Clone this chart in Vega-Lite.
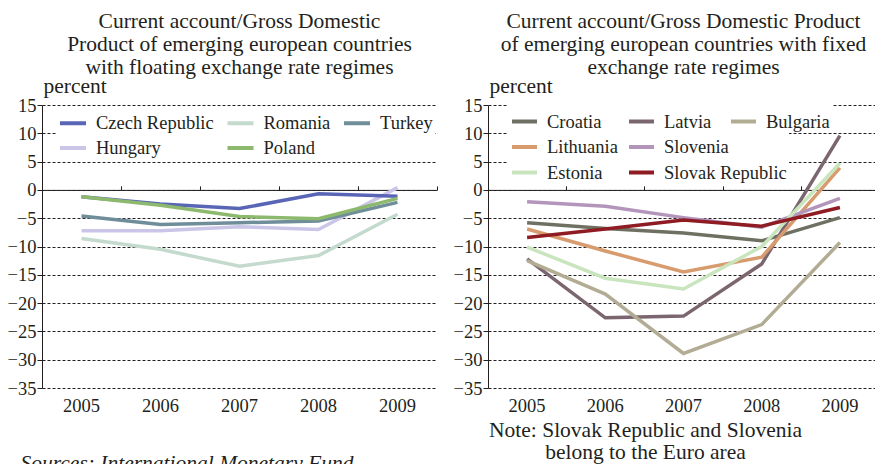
{
  "$schema": "https://vega.github.io/schema/vega-lite/v6.json",
  "background": "white",
  "padding": {"left": 7, "top": 10, "right": 0, "bottom": 0},
  "spacing": 15,
  "config": {
    "font": "Liberation Serif",
    "view": {"stroke": null},
    "axis": {"labelFont": "Liberation Serif", "titleFont": "Liberation Serif", "labelColor": "#231f20", "titleColor": "#231f20", "titleFontWeight": "normal"},
    "legend": {"labelFont": "Liberation Serif", "labelColor": "#231f20"},
    "title": {"font": "Liberation Serif", "fontWeight": "normal", "color": "#231f20"}
  },
  "datasets": {
    "floating": [
      {"country": "Romania", "year": "2005", "value": -8.6},
      {"country": "Romania", "year": "2006", "value": -10.5},
      {"country": "Romania", "year": "2007", "value": -13.5},
      {"country": "Romania", "year": "2008", "value": -11.6},
      {"country": "Romania", "year": "2009", "value": -4.3},
      {"country": "Hungary", "year": "2005", "value": -7.2},
      {"country": "Hungary", "year": "2006", "value": -7.2},
      {"country": "Hungary", "year": "2007", "value": -6.5},
      {"country": "Hungary", "year": "2008", "value": -7.0},
      {"country": "Hungary", "year": "2009", "value": 0.4},
      {"country": "Turkey", "year": "2005", "value": -4.6},
      {"country": "Turkey", "year": "2006", "value": -6.1},
      {"country": "Turkey", "year": "2007", "value": -5.8},
      {"country": "Turkey", "year": "2008", "value": -5.5},
      {"country": "Turkey", "year": "2009", "value": -2.2},
      {"country": "Czech Republic", "year": "2005", "value": -1.2},
      {"country": "Czech Republic", "year": "2006", "value": -2.5},
      {"country": "Czech Republic", "year": "2007", "value": -3.3},
      {"country": "Czech Republic", "year": "2008", "value": -0.7},
      {"country": "Czech Republic", "year": "2009", "value": -1.1},
      {"country": "Poland", "year": "2005", "value": -1.2},
      {"country": "Poland", "year": "2006", "value": -2.7},
      {"country": "Poland", "year": "2007", "value": -4.7},
      {"country": "Poland", "year": "2008", "value": -5.1},
      {"country": "Poland", "year": "2009", "value": -1.5}
    ],
    "fixed": [
      {"country": "Croatia", "year": "2005", "value": -5.8},
      {"country": "Croatia", "year": "2006", "value": -6.8},
      {"country": "Croatia", "year": "2007", "value": -7.6},
      {"country": "Croatia", "year": "2008", "value": -9.0},
      {"country": "Croatia", "year": "2009", "value": -4.9},
      {"country": "Latvia", "year": "2005", "value": -12.2},
      {"country": "Latvia", "year": "2006", "value": -22.6},
      {"country": "Latvia", "year": "2007", "value": -22.3},
      {"country": "Latvia", "year": "2008", "value": -13.1},
      {"country": "Latvia", "year": "2009", "value": 9.6},
      {"country": "Bulgaria", "year": "2005", "value": -12.5},
      {"country": "Bulgaria", "year": "2006", "value": -18.4},
      {"country": "Bulgaria", "year": "2007", "value": -28.9},
      {"country": "Bulgaria", "year": "2008", "value": -23.8},
      {"country": "Bulgaria", "year": "2009", "value": -9.3},
      {"country": "Lithuania", "year": "2005", "value": -6.9},
      {"country": "Lithuania", "year": "2006", "value": -10.8},
      {"country": "Lithuania", "year": "2007", "value": -14.5},
      {"country": "Lithuania", "year": "2008", "value": -11.9},
      {"country": "Lithuania", "year": "2009", "value": 3.9},
      {"country": "Slovenia", "year": "2005", "value": -2.1},
      {"country": "Slovenia", "year": "2006", "value": -2.9},
      {"country": "Slovenia", "year": "2007", "value": -4.9},
      {"country": "Slovenia", "year": "2008", "value": -6.6},
      {"country": "Slovenia", "year": "2009", "value": -1.5},
      {"country": "Estonia", "year": "2005", "value": -10.1},
      {"country": "Estonia", "year": "2006", "value": -15.6},
      {"country": "Estonia", "year": "2007", "value": -17.5},
      {"country": "Estonia", "year": "2008", "value": -10.0},
      {"country": "Estonia", "year": "2009", "value": 4.7},
      {"country": "Slovak Republic", "year": "2005", "value": -8.4},
      {"country": "Slovak Republic", "year": "2006", "value": -6.9},
      {"country": "Slovak Republic", "year": "2007", "value": -5.3},
      {"country": "Slovak Republic", "year": "2008", "value": -6.4},
      {"country": "Slovak Republic", "year": "2009", "value": -3.1}
    ]
  },
  "hconcat": [
    {
      "width": 395,
      "height": 283,
      "title": {"text": ["Current account/Gross Domestic", "Product of emerging european countries", "with floating exchange rate regimes"], "fontSize": 21.5, "lineHeight": 23, "anchor": "middle", "frame": "group", "offset": -3},
      "data": {"name": "floating"},
      "layer": [
        {
          "mark": {"type": "line", "strokeWidth": 3.5},
          "encoding": {
            "x": {"field": "year", "type": "ordinal", "scale": {"type": "band", "paddingInner": 0, "paddingOuter": 0},
              "axis": {"orient": "bottom", "domain": false, "ticks": false, "tickSize": 0, "grid": false, "labelAngle": 0, "labelFontSize": 18.5, "labelPadding": 8, "labelDx": 7,
                "title": "Sources: International Monetary Fund", "titleFontSize": 21.5, "titleFontStyle": "italic", "titleAlign": "left", "titleX": -22, "titleY": 81, "titleBaseline": "alphabetic"}},
            "y": {"field": "value", "type": "quantitative", "scale": {"domain": [-35, 15], "nice": false, "zero": false},
              "axis": {"values": [-35, -30, -25, -20, -15, -10, -5, 0, 5, 10, 15], "labelOverlap": false, "grid": true, "gridDash": [3, 2], "gridColor": "#231f20", "gridOpacity": 1, "gridWidth": 1, "domainColor": "#231f20", "tickColor": "#231f20", "tickSize": 5, "labelPadding": 1, "labelFontSize": 18.5,
                "title": "percent", "titleAngle": 0, "titleAlign": "left", "titleBaseline": "alphabetic", "titleX": 1, "titleY": -13, "titleFontSize": 21.5}},
            "color": {"field": "country", "type": "nominal",
              "scale": {"domain": ["Czech Republic", "Romania", "Turkey", "Hungary", "Poland"], "range": ["#5965b5", "#c3dacd", "#6f8e9a", "#cbc5e8", "#8db96e"]},
              "legend": {"orient": "none", "legendX": 14, "legendY": 1, "title": null, "columns": 3, "direction": "horizontal", "symbolType": "stroke", "symbolSize": 676, "symbolStrokeWidth": 4, "labelFontSize": 18.5, "labelOffset": 8, "columnPadding": 5.5, "rowPadding": -4, "fillColor": "white", "padding": 2, "gridAlign": "each"}}
          }
        },
        {
          "mark": {"type": "point", "opacity": 0},
          "encoding": {
            "x": {"field": "year", "type": "ordinal", "scale": {"type": "band", "paddingInner": 0, "paddingOuter": 0},
              "axis": {"orient": "top", "offset": -84.9, "labels": false, "tickBand": "extent", "tickSize": 4, "tickColor": "#231f20", "domainColor": "#231f20", "grid": false, "title": null, "minExtent": 0, "maxExtent": 0}}
          }
        }
      ],
      "resolve": {"axis": {"x": "independent"}}
    },
    {
      "width": 391,
      "height": 283,
      "title": {"text": ["Current account/Gross Domestic Product", "of emerging european countries with fixed", "exchange rate regimes"], "fontSize": 21.5, "lineHeight": 23, "anchor": "middle", "frame": "group", "offset": -3},
      "data": {"name": "fixed"},
      "layer": [
        {
          "transform": [{"filter": "datum.country !== 'Bulgaria'"}],
          "mark": {"type": "line", "strokeWidth": 3.5},
          "encoding": {
            "x": {"field": "year", "type": "ordinal", "scale": {"type": "band", "paddingInner": 0, "paddingOuter": 0},
              "axis": {"orient": "bottom", "domain": false, "ticks": false, "tickSize": 0, "grid": false, "labelAngle": 0, "labelFontSize": 18.5, "labelPadding": 8, "labelDx": 7,
                "title": ["Note: Slovak Republic and Slovenia", "belong to the Euro area"], "titleFontSize": 21.5, "titleAlign": "center", "titleX": 157, "titleY": 48, "titleBaseline": "alphabetic", "titleLineHeight": 22}},
            "y": {"field": "value", "type": "quantitative", "scale": {"domain": [-35, 15], "nice": false, "zero": false},
              "axis": {"values": [-35, -30, -25, -20, -15, -10, -5, 0, 5, 10, 15], "labelOverlap": false, "grid": true, "gridDash": [3, 2], "gridColor": "#231f20", "gridOpacity": 1, "gridWidth": 1, "domainColor": "#231f20", "tickColor": "#231f20", "tickSize": 5, "labelPadding": 1, "labelFontSize": 18.5,
                "title": "percent", "titleAngle": 0, "titleAlign": "left", "titleBaseline": "alphabetic", "titleX": 1, "titleY": -13, "titleFontSize": 21.5}},
            "color": {"field": "country", "type": "nominal",
              "scale": {"domain": ["Croatia", "Latvia", "Lithuania", "Slovenia", "Estonia", "Slovak Republic"], "range": ["#6e7162", "#7b6670", "#d89b6e", "#b395bc", "#c9e5be", "#8e1c22"]},
              "legend": {"orient": "none", "legendX": 20, "legendY": 0, "title": null, "columns": 2, "direction": "horizontal", "symbolType": "stroke", "symbolSize": 625, "symbolStrokeWidth": 4, "labelFontSize": 18.5, "labelOffset": 8, "columnPadding": 3, "rowPadding": 1.5, "fillColor": "white", "padding": 2, "gridAlign": "each"}}
          }
        },
        {
          "transform": [{"filter": "datum.country === 'Bulgaria'"}],
          "mark": {"type": "line", "strokeWidth": 3.5},
          "encoding": {
            "x": {"field": "year", "type": "ordinal", "scale": {"type": "band", "paddingInner": 0, "paddingOuter": 0}, "axis": null},
            "y": {"field": "value", "type": "quantitative", "scale": {"domain": [-35, 15], "nice": false, "zero": false},
              "axis": {"values": [-35, -30, -25, -20, -15, -10, -5, 0, 5, 10, 15], "labelOverlap": false, "grid": true, "gridDash": [3, 2], "gridColor": "#231f20", "gridOpacity": 1, "gridWidth": 1, "domainColor": "#231f20", "tickColor": "#231f20", "tickSize": 5, "labelPadding": 1, "labelFontSize": 18.5,
                "title": "percent", "titleAngle": 0, "titleAlign": "left", "titleBaseline": "alphabetic", "titleX": 1, "titleY": -13, "titleFontSize": 21.5}},
            "color": {"field": "country", "type": "nominal",
              "scale": {"domain": ["Bulgaria"], "range": ["#b3ac94"]},
              "legend": {"orient": "none", "legendX": 239, "legendY": 0, "title": null, "symbolType": "stroke", "symbolSize": 625, "symbolStrokeWidth": 4, "labelFontSize": 18.5, "labelOffset": 8, "fillColor": "white", "padding": 2}}
          }
        },
        {
          "mark": {"type": "point", "opacity": 0},
          "encoding": {
            "x": {"field": "year", "type": "ordinal", "scale": {"type": "band", "paddingInner": 0, "paddingOuter": 0},
              "axis": {"orient": "top", "offset": -84.9, "labels": false, "tickBand": "extent", "tickSize": 4, "tickColor": "#231f20", "domainColor": "#231f20", "grid": false, "title": null, "minExtent": 0, "maxExtent": 0}}
          }
        }
      ],
      "resolve": {"scale": {"color": "independent"}, "legend": {"color": "independent"}, "axis": {"x": "independent"}}
    }
  ]
}
